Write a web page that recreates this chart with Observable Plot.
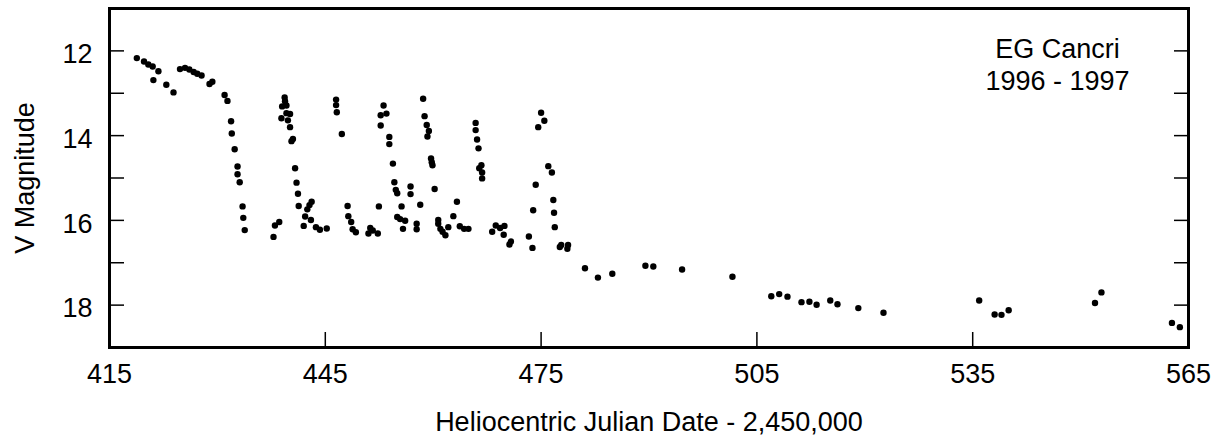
<!DOCTYPE html>
<html>
<head>
<meta charset="utf-8">
<script src="https://cdn.jsdelivr.net/npm/d3@7"></script>
<script src="https://cdn.jsdelivr.net/npm/@observablehq/plot@0.6"></script>
<style>
  html, body { margin: 0; padding: 0; background: white; }
  #chart svg { display: block; }
</style>
</head>
<body>
<div id="chart"></div>
<script>
// Heliocentric Julian Date - 2,450,000
const days = [
  418.8, 419.8, 420.4, 421.0, 421.8, 421.1, 422.9, 423.9, 424.8, 425.5,
  426.1, 426.7, 427.2, 427.8, 428.9, 429.3, 431.0, 431.4, 431.9, 432.0,
  432.4, 432.8, 432.8, 433.1, 433.5, 433.6, 433.8, 437.8, 438.0, 438.6,
  439.35, 439.4, 439.0, 439.6, 439.6, 440.1, 438.9, 439.8, 440.1, 440.5,
  440.3, 440.8, 441.0, 441.2, 441.3, 443.1, 442.8, 442.5, 442.2, 442.0,
  443.0, 443.7, 444.25, 445.2, 446.5, 446.5, 446.6, 447.3, 448.1, 448.2,
  448.6, 448.8, 449.25, 451.0, 451.25, 451.6, 452.3, 452.45, 453.1, 452.7,
  453.5, 452.7, 453.9, 453.9, 454.4, 454.6, 454.8, 455.0, 455.6, 455.0,
  455.4, 456.1, 455.8, 456.85, 456.85, 457.7, 457.7, 458.2, 458.6, 458.8,
  459.1, 459.4, 459.2, 459.7, 459.8, 459.9, 460.2, 460.7, 460.7, 461.0,
  461.3, 461.7, 462.1, 462.8, 463.3, 463.7, 464.3, 464.9, 465.9, 465.9,
  466.1, 466.3, 466.7, 466.4, 466.8, 466.8, 468.2, 468.7, 469.3, 469.9,
  469.8, 470.6, 470.8, 473.3, 473.8, 473.9, 474.25, 475.0, 475.45, 474.6,
  476.0, 476.5, 476.7, 476.8, 476.9, 477.6, 477.8, 478.65, 478.75, 481.1,
  482.9, 484.9, 489.5, 490.6, 494.6, 501.6, 507.0, 508.1, 509.25, 511.2,
  512.3, 513.3, 515.2, 516.2, 519.1, 522.6, 535.9, 538.05, 539.0, 540.0,
  552.0, 552.9, 562.7, 563.8
];
// V magnitude
const mags = [
  12.17, 12.25, 12.32, 12.37, 12.48, 12.69, 12.80, 12.98, 12.43, 12.40,
  12.44, 12.50, 12.54, 12.58, 12.78, 12.73, 13.04, 13.18, 13.66, 13.95,
  14.32, 14.73, 14.91, 15.10, 15.67, 15.94, 16.23, 16.39, 16.12, 16.04,
  13.10, 13.19, 13.31, 13.29, 13.47, 13.49, 13.59, 13.64, 13.80, 14.08,
  14.13, 14.77, 15.11, 15.37, 15.66, 15.56, 15.64, 15.74, 15.91, 16.13,
  15.99, 16.16, 16.22, 16.19, 13.15, 13.28, 13.45, 13.96, 15.66, 15.90,
  16.04, 16.21, 16.28, 16.31, 16.18, 16.24, 16.31, 15.67, 13.29, 13.52,
  13.48, 13.76, 14.03, 14.20, 14.66, 15.10, 15.28, 15.36, 15.67, 15.92,
  15.97, 16.01, 16.20, 15.20, 15.38, 16.08, 16.21, 15.63, 13.13, 13.54,
  13.75, 13.89, 14.02, 14.54, 14.63, 14.70, 15.26, 15.99, 16.08, 16.20,
  16.27, 16.35, 16.16, 15.90, 15.56, 16.14, 16.20, 16.20, 13.70, 13.87,
  14.09, 14.30, 14.70, 14.77, 14.87, 15.01, 16.27, 16.12, 16.18, 16.13,
  16.34, 16.57, 16.50, 16.38, 16.65, 15.76, 15.16, 13.46, 13.65, 13.80,
  14.72, 14.87, 15.52, 15.82, 16.16, 16.63, 16.58, 16.67, 16.58, 17.13,
  17.35, 17.26, 17.07, 17.09, 17.16, 17.33, 17.79, 17.74, 17.80, 17.93,
  17.92, 17.99, 17.89, 17.98, 18.07, 18.18, 17.89, 18.22, 18.23, 18.12,
  17.95, 17.70, 18.42, 18.52
];

const xTicks = [415, 445, 475, 505, 535, 565];
const yTicks = [12, 13, 14, 15, 16, 17, 18];
const yTickLabels = [12, 14, 16, 18];
const xTitle = "Heliocentric Julian Date - 2,450,000";
const yTitle = "V Magnitude";
const annotation = "EG Cancri\n1996 - 1997";

const points = days.map((d, i) => ({day: d, mag: mags[i]}));

const chart = Plot.plot({
  width: 1214,
  height: 436,
  marginLeft: 109,
  marginRight: 26,
  marginTop: 8,
  marginBottom: 89,
  style: {
    fontFamily: "'Liberation Sans', Arial, Helvetica, sans-serif",
    fontSize: "27px",
    color: "black",
    background: "white"
  },
  x: {domain: [415, 565]},
  y: {domain: [11, 19], reverse: true},
  marks: [
    Plot.axisX(xTicks, {anchor: "bottom", tickSize: -15, strokeWidth: 1.5, tickFormat: () => "", label: null}),
    Plot.axisX(xTicks, {anchor: "bottom", tickSize: 0, tickPadding: 16, label: null}),
    Plot.axisY(yTicks, {anchor: "left", tickSize: -15, strokeWidth: 1.5, tickFormat: () => "", label: null}),
    Plot.axisY(yTicks, {anchor: "right", tickSize: -15, strokeWidth: 1.5, tickFormat: () => "", label: null}),
    Plot.axisY(yTickLabels, {anchor: "left", tickSize: 0, tickPadding: 17, dy: 3.5, label: null}),
    Plot.frame({stroke: "black", strokeWidth: 3}),
    Plot.dot(points, {x: "day", y: "mag", r: 3.2, fill: "black", stroke: "none"}),
    Plot.text([annotation], {frameAnchor: "top-right", dx: -131, dy: 27, textAnchor: "middle", lineAnchor: "top", lineHeight: 1.17, fill: "black"}),
    Plot.text([xTitle], {frameAnchor: "bottom", dy: 83, textAnchor: "middle", lineAnchor: "bottom", fill: "black"}),
    Plot.text([yTitle], {frameAnchor: "left", dx: -76, rotate: -90, textAnchor: "middle", lineAnchor: "bottom", fill: "black"})
  ]
});
document.getElementById("chart").appendChild(chart);
</script>
</body>
</html>
